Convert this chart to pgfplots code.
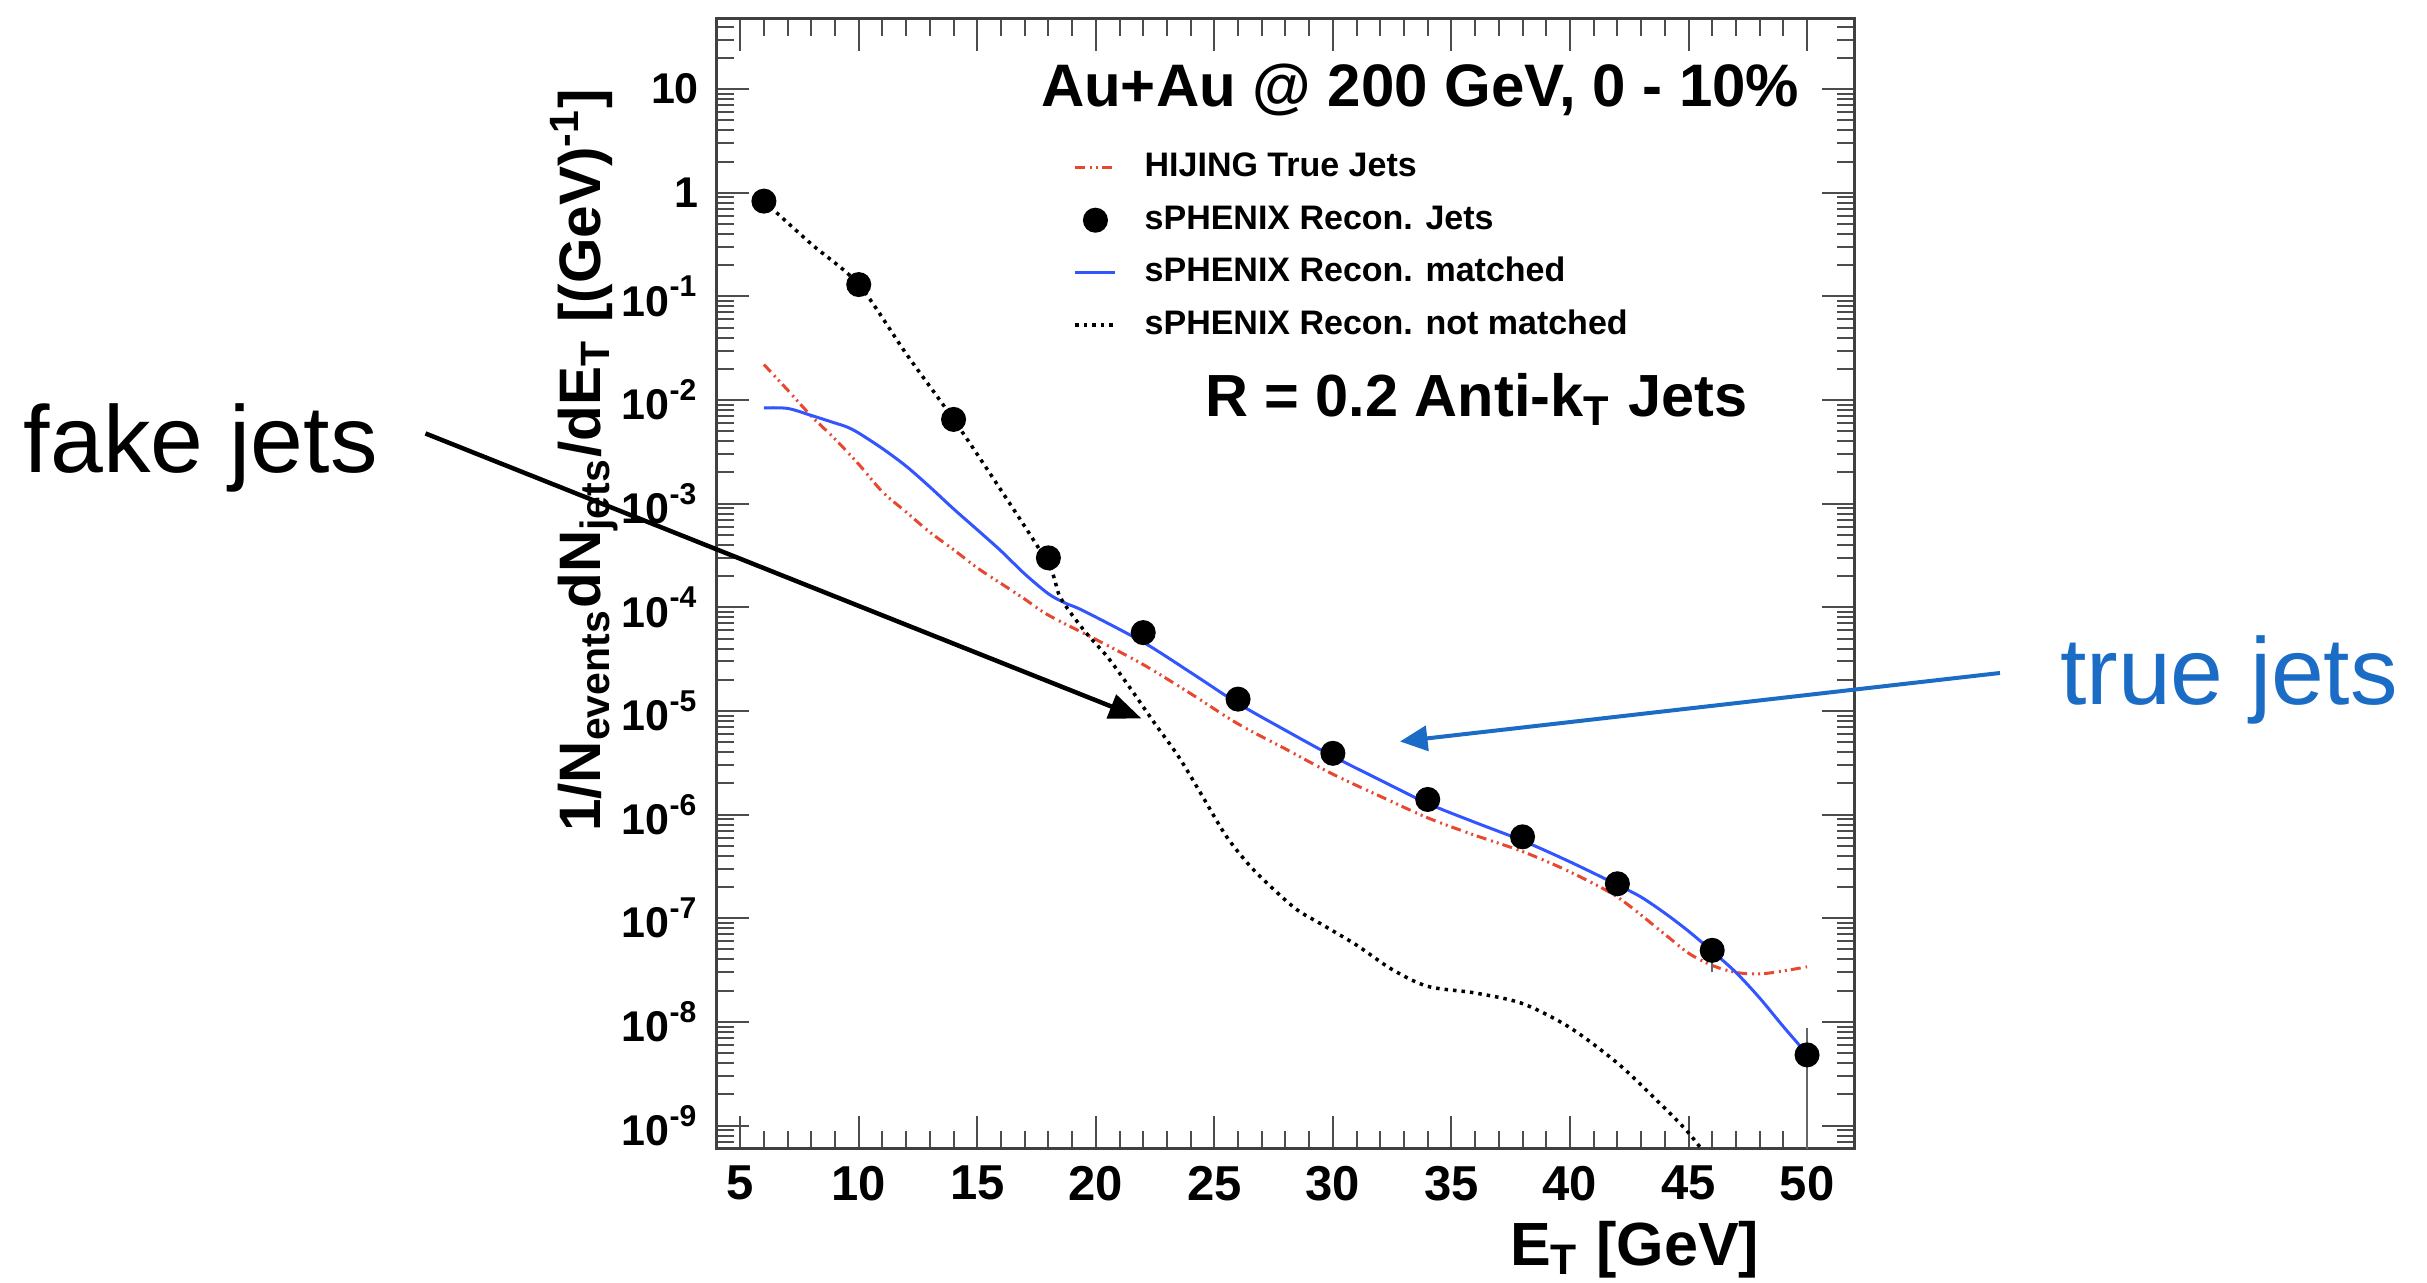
\documentclass[border=0pt]{standalone}
\usepackage{fontspec}
\setmainfont{Liberation Sans}
\usepackage{pgfplots}
\pgfplotsset{compat=1.18}
\usetikzlibrary{arrows.meta}
\definecolor{rootred}{RGB}{232,72,48}
\definecolor{rootblue}{RGB}{51,85,255}
\definecolor{annblue}{RGB}{26,108,196}
\def\myminor{}
\foreach \ee in {-10,...,1}{\foreach \mm in {2,...,9}{\xdef\myminor{\myminor,\mm e\ee}}}
\begin{document}
\begin{tikzpicture}[x=1pt,y=1pt]
\useasboundingbox (0,0) rectangle (485.4,256.6);
\begin{axis}[
  at={(143.3pt,26.9pt)}, anchor=south west,
  scale only axis, width=227.6pt, height=226pt,
  ymode=log, xmin=4, xmax=52, ymin=6e-10, ymax=48,
  axis line style={black!75, line width=0.6pt},
  xtick={5,10,...,50}, xticklabels={5,10,15,20,25,30,35,40,45,50},
  minor x tick num=4,
  ytick={1e-9,1e-8,1e-7,1e-6,1e-5,1e-4,1e-3,1e-2,1e-1,1,10},
  yticklabels={10\textsuperscript{-9},10\textsuperscript{-8},10\textsuperscript{-7},10\textsuperscript{-6},10\textsuperscript{-5},10\textsuperscript{-4},10\textsuperscript{-3},10\textsuperscript{-2},10\textsuperscript{-1},1,10},
  minor ytick/.expanded={1e-11\myminor},
  tick align=inside, xtick pos=both, ytick pos=both,
  xticklabel pos=lower, yticklabel pos=left,
  major tick length=6.5pt, minor tick length=3.5pt,
  tick style={black!70, line width=0.4pt},
  xticklabel style={font=\bfseries\fontsize{9.8}{10}\selectfont},
  yticklabel style={font=\bfseries\fontsize{8.6}{9}\selectfont},
  legend style={at={(0.313,0.883)}, anchor=north west, draw=none, fill=none,
    inner sep=0pt, row sep=4.1pt, column sep=5.5pt,
    font=\bfseries\fontsize{6.8}{7}\selectfont,
    nodes={inner sep=0pt, text height=5pt, text depth=1.4pt}},
  legend cell align=left,
  legend image code/.code={\draw[mark repeat=2,mark phase=2,#1] plot coordinates {(0pt,0pt) (4pt,0pt) (8pt,0pt)};},
]
\addlegendimage{rootred, line width=0.6pt, dash pattern=on 2pt off 1pt on 0.4pt off 0.8pt on 0.4pt off 0.8pt}
\addlegendentry{HIJING True Jets}
\addlegendimage{black, only marks, mark=*, mark size=2.3pt}
\addlegendentry{sPHENIX Recon. Jets}
\addlegendimage{rootblue, line width=0.6pt}
\addlegendentry{sPHENIX Recon. matched}
\addlegendimage{black, line width=0.7pt, dash pattern=on 0.7pt off 1pt}
\addlegendentry{sPHENIX Recon. not matched}

% HIJING true jets
\addplot[rootred, line width=0.6pt, dash pattern=on 2pt off 1pt on 0.4pt off 0.8pt on 0.4pt off 0.8pt, smooth, forget plot] coordinates {
(6,0.022)(7,0.0125)(8,7.0e-3)(9,4.2e-3)(10,2.4e-3)(11,1.3e-3)(12,8.3e-4)(13,5.3e-4)(14,3.6e-4)(15,2.4e-4)(16,1.7e-4)(17,1.2e-4)(18,8.4e-5)(20,4.9e-5)(22,2.8e-5)(24,1.47e-5)(26,7.5e-6)(28,4.3e-6)(30,2.45e-6)(32,1.5e-6)(34,9.3e-7)(36,6.3e-7)(38,4.4e-7)(40,2.8e-7)(42,1.6e-7)(44,7.0e-8)(45,4.6e-8)(46,3.5e-8)(47,3.0e-8)(48,2.9e-8)(49,3.1e-8)(50,3.4e-8)
};
% matched
\addplot[rootblue, line width=0.6pt, smooth, forget plot] coordinates {
(6,8.4e-3)(7,8.3e-3)(8,7.1e-3)(9,6.0e-3)(9.5,5.5e-3)(10,4.8e-3)(11,3.4e-3)(12,2.3e-3)(13,1.45e-3)(14,8.9e-4)(15,5.6e-4)(16,3.5e-4)(17,2.1e-4)(18,1.35e-4)(18.7,1.1e-4)(19.5,9.2e-5)(22,4.6e-5)(24,2.35e-5)(26,1.18e-5)(28,6.5e-6)(30,3.65e-6)(32,2.15e-6)(34,1.28e-6)(36,8.4e-7)(38,5.6e-7)(40,3.5e-7)(42,2.1e-7)(43,1.6e-7)(44,1.12e-7)(45,7.5e-8)(46,4.8e-8)(47,3.0e-8)(48,1.7e-8)(49,9.0e-9)(50,4.9e-9)
};
% not matched
\addplot[black, line width=0.7pt, dash pattern=on 0.7pt off 1pt, smooth, forget plot] coordinates {
(6,0.83)(8,0.32)(10,0.13)(12,0.028)(14,6.5e-3)(16,1.35e-3)(18,2.6e-4)(18.5,1.25e-4)(19.5,6e-5)(20.5,3.3e-5)(21.5,1.6e-5)(22.5,7.5e-6)(23.5,3.6e-6)(24.5,1.5e-6)(25.5,6.2e-7)(26.5,3.2e-7)(27.5,1.9e-7)(28.5,1.2e-7)(29.5,8.8e-8)(31,5.5e-8)(32.5,3.2e-8)(34,2.2e-8)(36,1.9e-8)(38,1.5e-8)(40,8.8e-9)(42,4.0e-9)(43.5,1.9e-9)(45,8.5e-10)(46.3,3.5e-10)
};
% reconstructed jets
\addplot[black, only marks, mark=*, mark size=2.3pt, forget plot,
  error bars/.cd, y dir=both, y explicit, error mark=none,
  error bar style={black!60, line width=0.5pt}] coordinates {
(6,0.83) +=(0,0) -=(0,0)
(10,0.13) +=(0,0) -=(0,0)
(14,6.5e-3) +=(0,0) -=(0,0)
(18,3.0e-4) +=(0,0) -=(0,0)
(22,5.7e-5) +=(0,0) -=(0,0)
(26,1.3e-5) +=(0,0) -=(0,0)
(30,3.9e-6) +=(0,0) -=(0,0)
(34,1.4e-6) +=(0,0) -=(0,0)
(38,6.1e-7) +=(0,0) -=(0,0)
(42,2.15e-7) +=(0,0) -=(0,0)
(46,4.9e-8) +=(0,0.5e-8) -=(0,1.9e-8)
(50,4.8e-9) +=(0,4.0e-9) -=(0,4.79e-9)
};
\end{axis}
% texts
\node[anchor=base west, inner sep=0pt, font=\bfseries\fontsize{12}{14}\selectfont] at (208.0,235.2) {Au+Au @ 200 GeV, 0 - 10\%};
\node[anchor=base west, inner sep=0pt, font=\bfseries\fontsize{11.9}{14}\selectfont] at (240.8,173.3) {R = 0.2 Anti-k\textsubscript{T} Jets};
\node[anchor=base east, inner sep=0pt, font=\bfseries\fontsize{12.2}{14}\selectfont] at (352.0,3.4) {E\textsubscript{T} [GeV]};
\node[rotate=90, anchor=base east, inner sep=0pt, font=\bfseries\fontsize{11.7}{14}\selectfont] at (120.0,239.0) {1/N\textsubscript{events}dN\textsubscript{jets}/dE\textsubscript{T} [(GeV)\textsuperscript{-1}]};
% annotations
\node[anchor=base west, inner sep=0pt, font=\fontsize{19}{22}\selectfont] at (4.6,162.0) {fake jets};
\node[anchor=base west, inner sep=0pt, font=\fontsize{19}{22}\selectfont, text=annblue] at (411.8,115.7) {true jets};
\draw[black, line width=0.9pt, -{Triangle[length=6.5pt,width=5pt]}] (85.1,169.9) -- (228.3,112.9);
\draw[annblue, line width=0.8pt, -{Triangle[length=5.5pt,width=5pt]}] (400.0,122.0) -- (280.0,108.3);
\end{tikzpicture}
\end{document}
